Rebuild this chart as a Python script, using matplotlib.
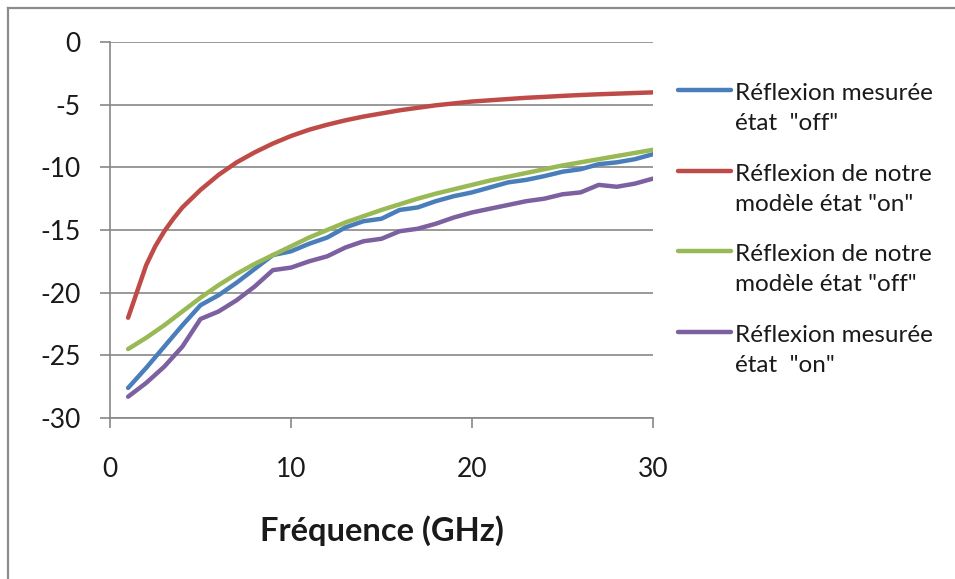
import matplotlib
matplotlib.use("Agg")
import matplotlib.pyplot as plt
from matplotlib.lines import Line2D

plt.rcParams['font.family'] = ['Lato', 'DejaVu Sans']

freq = list(range(1, 31))
mes_off = [-27.6, -26.0, -24.3, -22.6, -21.0, -20.2, -19.2, -18.1, -17.0, -16.7,
           -16.1, -15.6, -14.8, -14.3, -14.1, -13.4, -13.2, -12.7, -12.3, -12.0,
           -11.6, -11.2, -11.0, -10.7, -10.35, -10.15, -9.75, -9.6, -9.35, -8.95]
freq_mod_on = [1, 1.5, 2, 2.5, 3, 3.5, 4, 5, 6, 7, 8, 9, 10, 11, 12, 13, 14, 15,
               16, 17, 18, 19, 20, 21, 22, 23, 24, 25, 26, 27, 28, 29, 30]
mod_on = [-22.0, -19.9, -17.8, -16.3, -15.1, -14.1, -13.2, -11.8, -10.6, -9.6,
          -8.8, -8.1, -7.5, -7.0, -6.6, -6.25, -5.95, -5.7, -5.45, -5.25, -5.05,
          -4.9, -4.75, -4.65, -4.55, -4.45, -4.38, -4.3, -4.23, -4.17, -4.12,
          -4.07, -4.02]
mod_off = [-24.5, -23.6, -22.6, -21.5, -20.4, -19.4, -18.5, -17.7, -17.0, -16.3,
           -15.6, -15.0, -14.4, -13.9, -13.4, -12.95, -12.5, -12.1, -11.75, -11.4,
           -11.05, -10.75, -10.45, -10.15, -9.85, -9.6, -9.35, -9.1, -8.85, -8.6]
mes_on = [-28.3, -27.2, -25.9, -24.3, -22.1, -21.5, -20.6, -19.5, -18.2, -18.0,
          -17.5, -17.1, -16.4, -15.9, -15.7, -15.1, -14.9, -14.5, -14.0, -13.6,
          -13.3, -13.0, -12.7, -12.5, -12.15, -12.0, -11.4, -11.55, -11.3, -10.9]

labels = ['Réflexion mesurée\nétat  "off"',
          'Réflexion de notre\nmodèle état "on"',
          'Réflexion de notre\nmodèle état "off"',
          'Réflexion mesurée\nétat  "on"']
colors = ['#4A7EBB', '#BE4B48', '#98B954', '#7D60A0']
xs = [freq, freq_mod_on, freq, freq]
series = [mes_off, mod_on, mod_off, mes_on]

yticks = [0, -5, -10, -15, -20, -25, -30]
xticks = [0, 10, 20, 30]

W, H = 955, 579
fig = plt.figure(figsize=(W / 100, H / 100), dpi=100)
border_c = '#8c8c8c'
fig.add_artist(Line2D([8 / W, 1.0], [1 - 8 / H, 1 - 8 / H], transform=fig.transFigure,
                      color=border_c, lw=1.6))
fig.add_artist(Line2D([8 / W, 8 / W], [0, 1 - 8 / H], transform=fig.transFigure,
                      color=border_c, lw=1.6))

ax = fig.add_axes([110 / W, 1 - 418 / H, 543 / W, 376 / H])

grid_c = '#878787'
for yv in yticks:
    ax.axhline(yv, color=grid_c, lw=1.2, zorder=0)

lines = []
for x, s, c, l in zip(xs, series, colors, labels):
    ln, = ax.plot(x, s, color=c, lw=3.2, label=l, solid_capstyle='round',
                  solid_joinstyle='round')
    lines.append(ln)

ax.set_xlim(0, 30)
ax.set_ylim(-30, 0)
ax.set_xticks(xticks)
ax.set_yticks(yticks)
ax.set_yticklabels([str(v) for v in yticks])
for sp in ['top', 'right']:
    ax.spines[sp].set_visible(False)
for sp in ['left', 'bottom']:
    ax.spines[sp].set_color(grid_c)
    ax.spines[sp].set_linewidth(1.2)
ax.tick_params(axis='x', length=7, width=1.2, colors=grid_c, labelsize=19, pad=21,
               labelcolor='#1a1a1a')
ax.tick_params(axis='y', length=7, width=1.2, colors=grid_c, labelsize=19, pad=14,
               labelcolor='#1a1a1a')

ax.set_xlabel('Fréquence (GHz)', fontsize=23.5, fontweight='bold', labelpad=24,
              color='#1a1a1a')

# legend (handle aligned with first text line, as in the reference)
entry_y = [90, 171, 251, 332]
for ln, l, yy in zip(lines, labels, entry_y):
    fig.add_artist(Line2D([678 / W, 731 / W], [1 - yy / H, 1 - yy / H],
                          transform=fig.transFigure, color=ln.get_color(), lw=3.2,
                          solid_capstyle='round'))
    for k, part in enumerate(l.split('\n')):
        fig.text(735 / W, 1 - (yy + 10 + 30 * k) / H, part, ha='left',
                 va='baseline', fontsize=17.5, color='#1a1a1a')

fig.savefig('out.png', dpi=100)
